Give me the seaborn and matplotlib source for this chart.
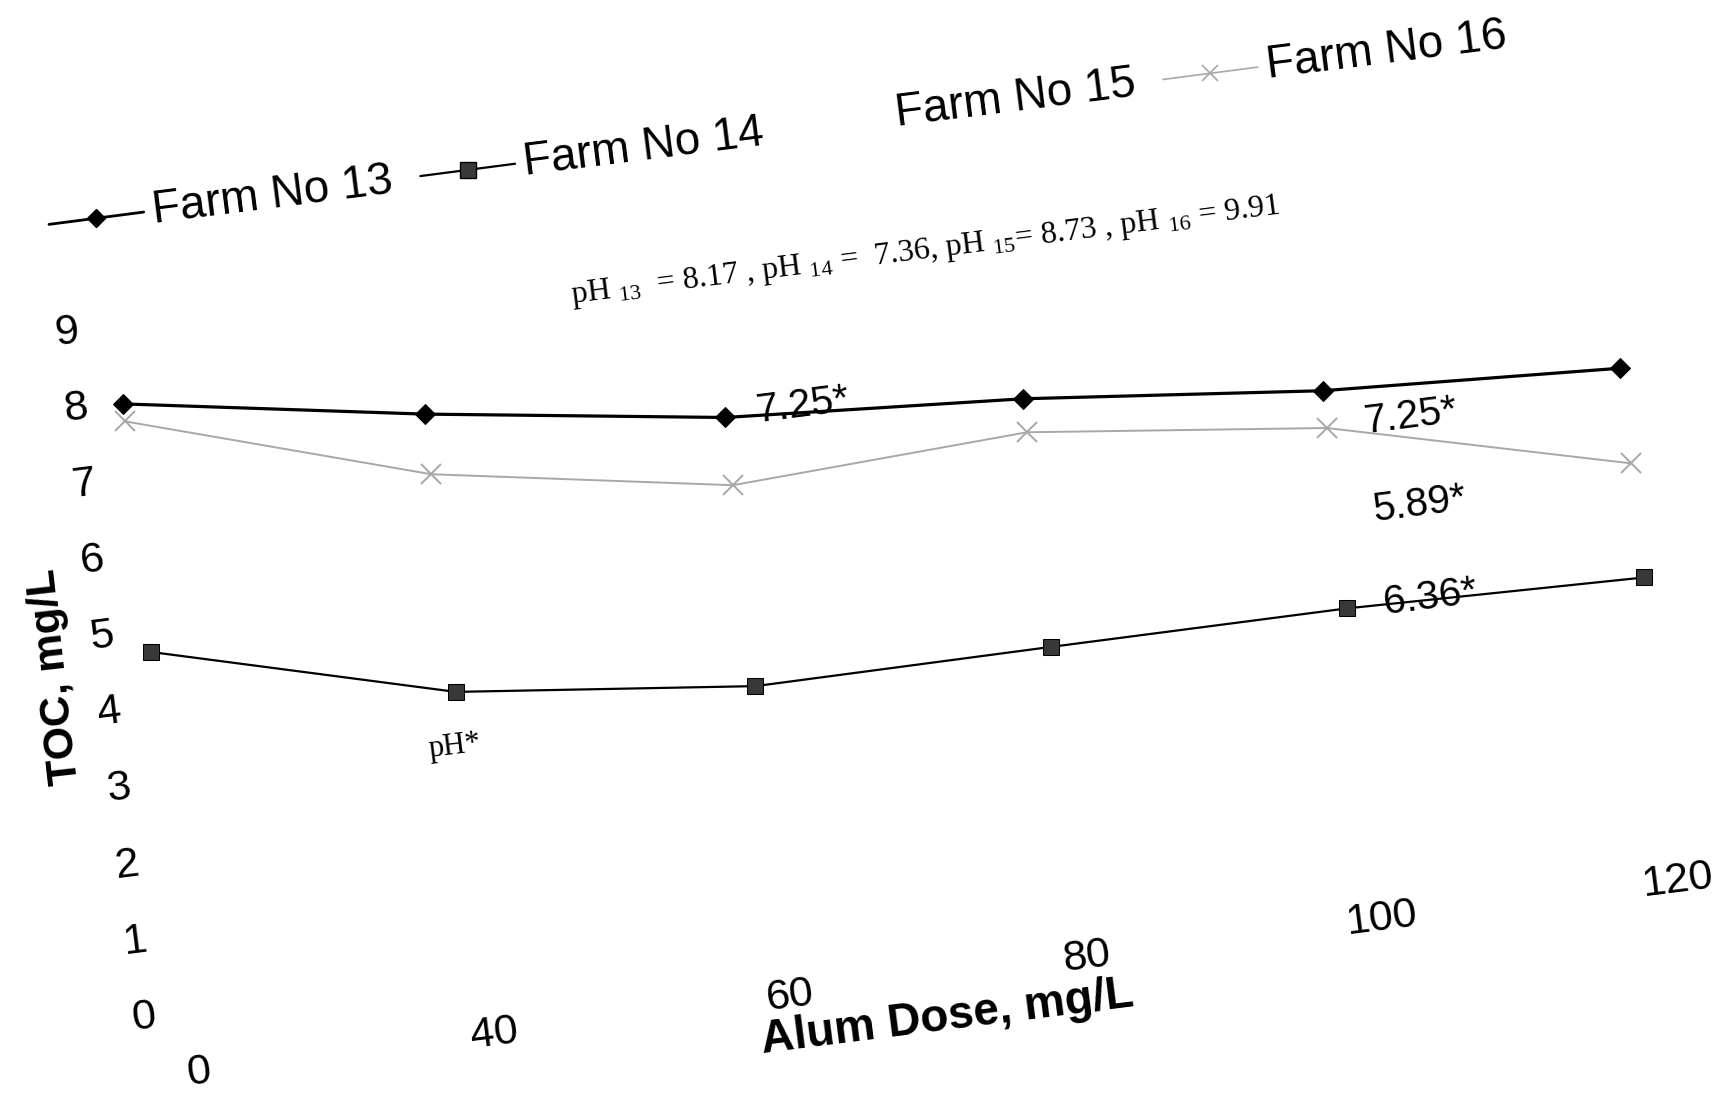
import numpy as np
import seaborn as sns
import matplotlib.pyplot as plt
from matplotlib.transforms import Affine2D

# alum dose categories (equally spaced on the chart)
doses = ['0', '40', '60', '80', '100', '120']
# TOC, mg/L for each farm
farm13 = [7.98, 7.34, 6.79, 6.53, 6.13, 5.92]
farm14 = [4.72, 3.69, 3.26, 3.27, 3.27, 3.17]
farm16 = [7.75, 6.55, 5.90, 6.09, 5.64, 4.67]
yticks = list(range(10))
farm_names = ['Farm No 13', 'Farm No 14', 'Farm No 15', 'Farm No 16']
ph_title = r'pH $_{13}$  = 8.17 , pH $_{14}$ =  7.36, pH $_{15}$= 8.73 , pH $_{16}$ = 9.91'
ph_notes = ['7.25*', '7.25*', '5.89*', '6.36*', 'pH*']

sns.set_style('white')
plt.rcParams['font.family'] = ['Liberation Sans', 'DejaVu Sans']
plt.rcParams['text.color'] = 'black'
plt.rcParams['mathtext.fontset'] = 'custom'
plt.rcParams['mathtext.rm'] = 'Liberation Serif'
plt.rcParams['mathtext.default'] = 'rm'

pos = np.arange(len(doses))

fig = plt.figure(figsize=(17.25, 11.03), dpi=100)
ox, oy = 191.5, 91.8
ax = fig.add_axes([ox / 1725, oy / 1103, 5 * 298.4 / 1725, 9 * 76.6 / 1103])

# the scanned page is tilted, so everything goes through the data transform plus a tilt
skew = Affine2D(np.array([[0.9916, -0.1117, 0], [0.1290, 0.9935, 0], [0, 0, 1]]))
tilt = Affine2D().translate(-ox, -oy) + skew + Affine2D().translate(ox, oy)
tr = ax.transData + tilt
ang = 7.2

sns.lineplot(x=pos, y=farm13, marker='D', markersize=10.5, color='black',
             markeredgecolor='black', linewidth=2.3, ax=ax)
sns.lineplot(x=pos, y=farm14, marker='s', markersize=12, color='black',
             markerfacecolor='#383838', markeredgecolor='black', linewidth=1.6, ax=ax)
sns.lineplot(x=pos, y=farm16, marker='x', markersize=15, color='#a8a8a8',
             markeredgecolor='#a8a8a8', markeredgewidth=1.4, linewidth=1.4, ax=ax)
for line in ax.lines:
    line.set_transform(tr)
    line.set_clip_on(False)

ax.set_xlim(0, 5)
ax.set_ylim(0, 9)
ax.set_axis_off()

# tick labels
for v in yticks:
    ax.text(-0.16, v, str(v), transform=tr, fontsize=31, ha='center', va='center',
            rotation=ang, rotation_mode='anchor')
for i, d in enumerate(doses):
    ax.text(i, -0.81, d, transform=tr, fontsize=31, ha='center', va='center',
            rotation=ang, rotation_mode='anchor')

ax.text(2.515, -1.36, 'Alum Dose, mg/L', transform=tr, fontsize=33, fontweight='bold',
        ha='center', va='center', rotation=ang, rotation_mode='anchor')
ax.text(-0.33, 4.56, 'TOC, mg/L', transform=tr, fontsize=31, fontweight='bold',
        ha='center', va='center', rotation=96.4, rotation_mode='anchor')

# legend drawn along the tilted line
styles = [dict(marker='D', markersize=9, color='black', linewidth=2),
          dict(marker='s', markersize=11, color='black', markerfacecolor='#383838', linewidth=1.6),
          None,
          dict(marker='x', markersize=12, color='#a8a8a8', markeredgewidth=1.2, linewidth=1.2)]
for i, name in enumerate(farm_names):
    hx = -0.02 + 1.255 * i
    if styles[i] is not None:
        ax.plot([hx - 0.16, hx, hx + 0.16], [10.43] * 3, transform=tr, clip_on=False,
                markevery=[1], **styles[i])
    ax.text(hx + 0.19, 10.43, name, transform=tr, fontsize=33, ha='left', va='center',
            rotation=ang, rotation_mode='anchor')

ax.text(2.73, 8.61, ph_title, transform=tr, fontsize=23, family='Liberation Serif',
        ha='center', va='center', rotation=ang, rotation_mode='anchor')

note_pos = [(2.264, 6.82), (4.286, 5.65), (4.279, 4.50), (4.280, 3.27), (0.975, 2.99)]
for (u, v), s in zip(note_pos, ph_notes):
    fam = 'Liberation Serif' if s == 'pH*' else 'Liberation Sans'
    size = 22 if s == 'pH*' else 29
    ax.text(u, v, s, transform=tr, fontsize=size, family=fam, ha='center', va='center',
            rotation=ang, rotation_mode='anchor')

fig.savefig('out.png', dpi=100)
